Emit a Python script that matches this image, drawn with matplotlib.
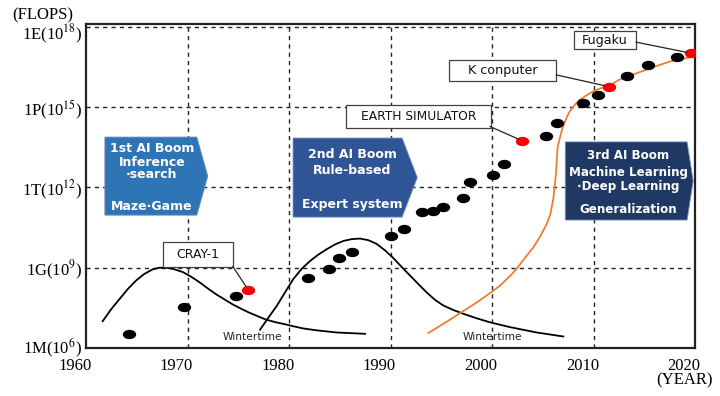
"""Supercomputer performance and the three AI booms"""

import numpy as np
import matplotlib

matplotlib.use("Agg")
import matplotlib.pyplot as plt
from matplotlib.patches import Polygon, Rectangle
from matplotlib.path import Path
from matplotlib.transforms import Affine2D, ScaledTranslation

plt.rcParams["mathtext.fontset"] = "stix"

# supercomputers: year and log10(FLOPS)
sc_years = [1964.2, 1969.7, 1974.8, 1981.9, 1983.9, 1984.9, 1986.2, 1990.0,
            1991.3, 1993.1, 1994.2, 1995.2, 1997.1, 1997.8, 2000.1, 2001.2,
            2005.3, 2006.4, 2009.0, 2010.4, 2013.3, 2015.4, 2018.2]
sc_exp = [6.53, 7.52, 7.94, 8.62, 8.96, 9.36, 9.60, 10.20,
          10.44, 11.08, 11.12, 11.28, 11.60, 12.19, 12.48, 12.89,
          13.93, 14.41, 15.14, 15.45, 16.15, 16.57, 16.88]

# highlighted machines
named = ["CRAY-1", "EARTH SIMULATOR", "K conputer", "Fugaku"]
named_years = [1976.0, 2003.0, 2011.5, 2019.6]
named_exp = [8.16, 13.74, 15.77, 17.02]

# AI boom curves (illustrative)
boom1_years = [1961.64, 1962.46, 1963.28, 1964.11, 1964.93, 1965.75, 1966.57,
               1967.22, 1967.88, 1968.54, 1969.52, 1970.34, 1971.17, 1971.99,
               1972.81, 1973.63, 1974.45, 1975.27, 1976.09, 1976.91, 1977.73,
               1978.72, 1979.70, 1980.10, 1981.41, 1982.73, 1984.70, 1987.49]
boom1_exp = [7.00, 7.44, 7.82, 8.20, 8.52, 8.77, 8.94,
             9.00, 9.00, 8.96, 8.84, 8.67, 8.46, 8.23,
             8.01, 7.82, 7.63, 7.47, 7.32, 7.19, 7.06,
             6.96, 6.88, 6.84, 6.73, 6.66, 6.58, 6.53]

boom2_years = [1977.14, 1977.96, 1978.79, 1979.61, 1980.43, 1981.25, 1982.07,
               1982.89, 1983.71, 1984.53, 1985.35, 1986.18, 1987.00, 1987.82,
               1988.64, 1989.46, 1990.28, 1991.10, 1991.92, 1992.74, 1993.56,
               1994.38, 1995.20, 1996.19, 1997.17, 1998.49, 1999.80, 2001.77,
               2004.40, 2007.03]
boom2_exp = [6.68, 7.13, 7.57, 8.08, 8.58, 8.96, 9.25,
             9.49, 9.69, 9.87, 10.00, 10.07, 10.09, 10.03,
             9.89, 9.65, 9.36, 9.03, 8.71, 8.39, 8.08,
             7.80, 7.59, 7.42, 7.28, 7.11, 6.96, 6.78,
             6.58, 6.43]

boom3_years = [1993.73, 1994.55, 1995.86, 1997.17, 1998.49, 1999.80, 2000.79,
               2001.77, 2002.43, 2003.08, 2004.07, 2004.73, 2005.39, 2005.75,
               2006.05, 2006.21, 2006.31, 2006.38, 2006.47, 2006.70, 2006.97,
               2007.36, 2007.68, 2008.18, 2008.67, 2009.33, 2010.15, 2010.97,
               2011.79, 2012.61, 2013.43, 2014.26, 2015.89, 2017.54, 2019.34]
boom3_exp = [6.56, 6.75, 7.06, 7.38, 7.70, 8.05, 8.33,
             8.69, 8.96, 9.29, 9.76, 10.16, 10.63, 11.00,
             11.60, 12.15, 12.52, 13.01, 13.51, 13.88, 14.25,
             14.62, 14.86, 15.10, 15.28, 15.45, 15.63, 15.74,
             15.86, 16.04, 16.15, 16.27, 16.50, 16.71, 16.85]

x_ticks = [1960, 1970, 1980, 1990, 2000, 2010, 2020]
y_ticks_exp = [6, 9, 12, 15, 18]
y_tick_labels = ["1M(10$^{6}$)", "1G(10$^{9}$)", "1T(10$^{12}$)",
                 "1P(10$^{15}$)", "1E(10$^{18}$)"]

boom_titles = [
    ["1st AI Boom", "Inference", "\u00b7search", "Maze\u00b7Game"],
    ["2nd AI Boom", "Rule-based", "Expert system"],
    ["3rd AI Boom", "Machine Learning", "\u00b7Deep Learning", "Generalization"],
]

fig = plt.figure(figsize=(7.2, 3.96), dpi=100)
ax = fig.add_axes([86 / 720, 1 - 348 / 396, 609 / 720, 324 / 396])

ax.set_yscale("log")
ax.set_xlim(1960, 2020)
ax.set_ylim(1e6, 10 ** 18.11)

serif = "Liberation Serif"
ax.set_xticks(x_ticks)
ax.set_xticklabels([str(x) for x in x_ticks], family=serif, fontsize=12)
ax.set_yticks([10.0 ** e for e in y_ticks_exp])
ax.set_yticklabels(y_tick_labels, family=serif, fontsize=12)
ax.minorticks_off()
ax.tick_params(length=0, pad=3)
ax.tick_params(axis="x", pad=7)
shift = ScaledTranslation(-0.11, 0, fig.dpi_scale_trans)
for lab in ax.get_xticklabels():
    lab.set_transform(lab.get_transform() + shift)
# top label sits a little under its gridline, bottom one a little above
ylabs = ax.get_yticklabels()
ylabs[-1].set_transform(ylabs[-1].get_transform()
                        + ScaledTranslation(0, -0.04, fig.dpi_scale_trans))
ylabs[0].set_transform(ylabs[0].get_transform()
                       + ScaledTranslation(0, 0.025, fig.dpi_scale_trans))

for x in x_ticks[1:-1]:
    ax.axvline(x, color="#222222", lw=1, ls=(0, (3, 3)), zorder=1)
for e in y_ticks_exp[1:]:
    ax.axhline(10.0 ** e, color="#222222", lw=1, ls=(0, (3, 3)), zorder=1)

for side in ["left", "right", "top", "bottom"]:
    ax.spines[side].set_linewidth(1.6)
    ax.spines[side].set_color("#222222")

# boom curves
ax.plot(boom1_years, np.power(10, boom1_exp), color="black", lw=1.3, zorder=3)
ax.plot(boom2_years, np.power(10, boom2_exp), color="black", lw=1.3, zorder=3)
ax.plot(boom3_years, np.power(10, boom3_exp), color="#ED7D31", lw=1.3, zorder=3)

# dots are flat ellipses
ellipse = Path.unit_circle().transformed(Affine2D().scale(1.5, 1.0))
ax.plot(sc_years, np.power(10, sc_exp), ls="none", marker=ellipse,
        markersize=8.6, color="black", zorder=5)
ax.plot(named_years, np.power(10, named_exp), ls="none", marker=ellipse,
        markersize=8.6, color="#FF0000", zorder=5)

# AI boom arrow boxes (axes fraction)
box_shapes = [
    (0.031, 0.182, 0.200, 0.410, 0.651, "#2E75B6"),
    (0.340, 0.519, 0.544, 0.404, 0.648, "#2F5597"),
    (0.787, 0.987, 0.997, 0.395, 0.636, "#203864"),
]
box_text_x = [0.108, 0.437, 0.890]
box_text_y = [
    [0.617, 0.571, 0.534, 0.438],
    [0.596, 0.549, 0.444],
    [0.593, 0.543, 0.497, 0.429],
]
box_fs = [9, 9, 8.6]
for (x0, x1, xt, y0, y1, col), lines, tx, tys, fs in zip(
    box_shapes, boom_titles, box_text_x, box_text_y, box_fs
):
    poly = Polygon(
        [(x0, y0), (x1, y0), (xt, (y0 + y1) / 2), (x1, y1), (x0, y1)],
        closed=True, transform=ax.transAxes, facecolor=col,
        edgecolor="#6F8FBF", lw=0.6, zorder=4,
    )
    ax.add_patch(poly)
    for line, ty in zip(lines, tys):
        ax.text(tx, ty, line, transform=ax.transAxes, ha="center", va="center",
                color="white", fontweight="bold", fontsize=fs, zorder=6)

# callouts: box (x0, x1, y0, y1) and where the leader leaves it
callout_boxes = [
    (0.126, 0.241, 0.250, 0.327),
    (0.427, 0.665, 0.679, 0.750),
    (0.596, 0.772, 0.824, 0.889),
    (0.801, 0.903, 0.923, 0.978),
]
leader_start = [(0.241, 0.252), (0.663, 0.684), (0.772, 0.843), (0.903, 0.944)]
callout_fs = [9, 8.8, 9.2, 9.2]
for name, yr, ex, (x0, x1, y0, y1), start, fs in zip(
    named, named_years, named_exp, callout_boxes, leader_start, callout_fs
):
    ax.add_patch(Rectangle((x0, y0), x1 - x0, y1 - y0, transform=ax.transAxes,
                           facecolor="white", edgecolor="#404040", lw=0.9,
                           zorder=6))
    ax.text((x0 + x1) / 2, (y0 + y1) / 2, name, transform=ax.transAxes,
            ha="center", va="center", fontsize=fs, color="#111111", zorder=7)
    ax.annotate("", xy=(yr, 10.0 ** ex), xytext=start,
                textcoords="axes fraction",
                arrowprops=dict(arrowstyle="-", color="#222222", lw=0.9,
                                shrinkA=0, shrinkB=3),
                zorder=6)

ax.text(0.273, 0.034, "Wintertime", transform=ax.transAxes, ha="center",
        va="center", fontsize=7.7, color="#222222", zorder=6)
ax.text(0.667, 0.034, "Wintertime", transform=ax.transAxes, ha="center",
        va="center", fontsize=7.7, color="#222222", zorder=6)

fig.text(0.06, 0.96, "(FLOPS)", family=serif, fontsize=12, ha="center",
         va="center")
fig.text(0.951, 0.040, "(YEAR)", family=serif, fontsize=12, ha="center",
         va="center")

fig.savefig("out.png", dpi=100)
